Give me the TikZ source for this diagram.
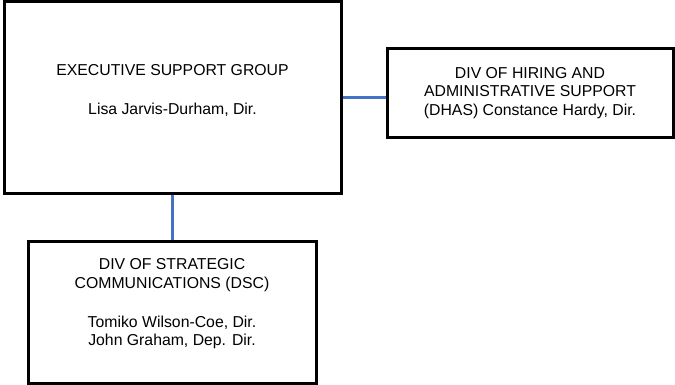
\documentclass[tikz,border=0pt]{standalone}
\usepackage{fontspec}
\setmainfont{Liberation Sans}
\usetikzlibrary{positioning}
\definecolor{orgInk}{HTML}{000000}
\definecolor{orgBlue}{HTML}{4472C4}
\tikzset{
 org/.style={line cap=butt,line join=miter,text=orgInk,font=\fontsize{15.8}{18.3}\selectfont},
 unit/.style={rectangle,draw=orgInk,fill=white,line width=3pt,inner sep=0pt},
 unittext/.style={align=center,inner sep=0pt},
 link/.style={draw=orgBlue,line width=2.6pt}
}
\begin{document}
\begin{tikzpicture}[org,x=1pt,y=1pt]
 \useasboundingbox (0,0) rectangle (675,384);
 % boxes
 \node[unit,minimum width=337pt,minimum height=191pt] (esg) at (172.5,286.5) {};
 \node[unit,minimum width=286pt,minimum height=89pt] (dhas) at (530,291.5) {};
 \node[unit,minimum width=288pt,minimum height=142pt] (dsc) at (172,72) {};
 % texts
 \node[unittext] (esgtext) at ([yshift=7pt]esg.center)
   {EXECUTIVE SUPPORT GROUP\\[21pt]Lisa Jarvis-Durham, Dir.};
 \node[unittext] (dhastext) at ([yshift=-0.5pt]dhas.center)
   {DIV OF HIRING AND\\ADMINISTRATIVE SUPPORT\\(DHAS) Constance Hardy, Dir.};
 \node[unittext] (dsctext) at ([yshift=8pt]dsc.center)
   {DIV OF STRATEGIC\\COMMUNICATIONS (DSC)\\[21pt]Tomiko Wilson-Coe, Dir.\\John Graham, Dep. Dir.};
 % connectors
 \draw[link] (esg.east) -- (esg.east -| dhas.west);
 \draw[link] (esg.south) -- (esg.south |- dsc.north);
\end{tikzpicture}
\end{document}
